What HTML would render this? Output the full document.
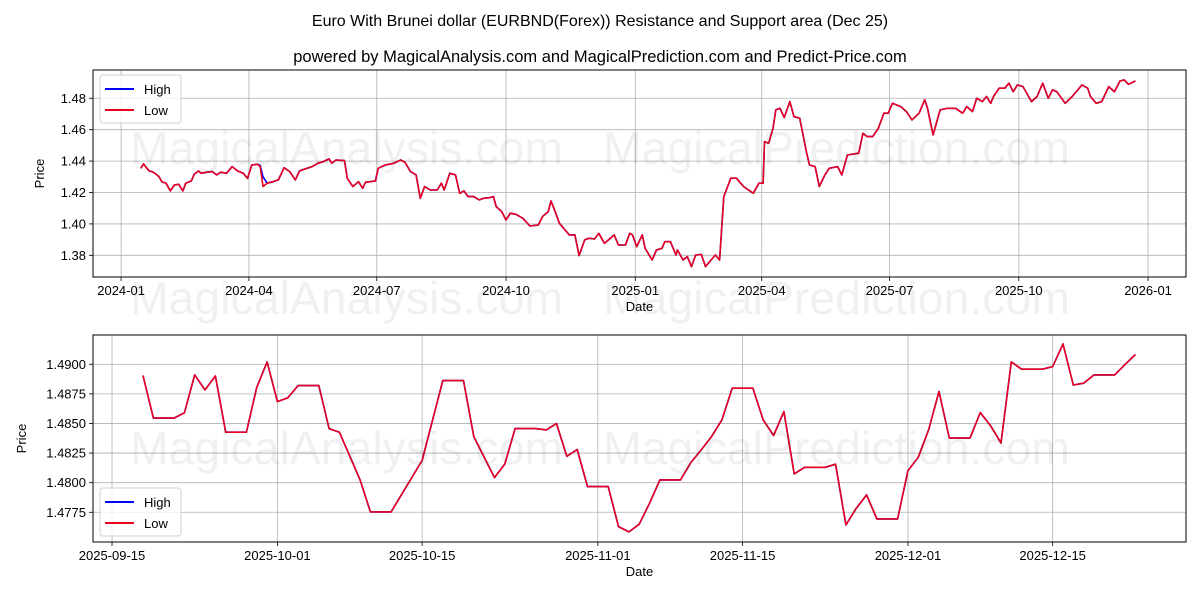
<!DOCTYPE html>
<html><head><meta charset="utf-8"><style>
body{margin:0;background:#fff;}
svg{display:block;font-family:"Liberation Sans","DejaVu Sans",sans-serif;}
</style></head><body>
<svg id="chart" width="1200" height="600" viewBox="0 0 1200 600">
<rect x="0" y="0" width="1200" height="600" fill="#fff"/>
<text x="600" y="26" text-anchor="middle" font-size="16" fill="#000">Euro With Brunei dollar (EURBND(Forex)) Resistance and Support area (Dec 25)</text>
<text x="600" y="62" text-anchor="middle" font-size="16.5" fill="#000">powered by MagicalAnalysis.com and MagicalPrediction.com and Predict-Price.com</text>
<g id="top"></g>
<g id="bot"></g>
<g font-size="46" fill="#000" fill-opacity="0.06">
<text x="130" y="164" textLength="433" lengthAdjust="spacingAndGlyphs">MagicalAnalysis.com</text>
<text x="603" y="164" textLength="467" lengthAdjust="spacingAndGlyphs">MagicalPrediction.com</text>
<text x="130" y="314" textLength="433" lengthAdjust="spacingAndGlyphs">MagicalAnalysis.com</text>
<text x="603" y="314" textLength="467" lengthAdjust="spacingAndGlyphs">MagicalPrediction.com</text>
<text x="130" y="464" textLength="433" lengthAdjust="spacingAndGlyphs">MagicalAnalysis.com</text>
<text x="603" y="464" textLength="467" lengthAdjust="spacingAndGlyphs">MagicalPrediction.com</text>
</g>
</svg>
<script>
// Top chart: day offsets from 2024-01-01 and low values
const topDays = [14,16,18,20,22,24,27,29,32,35,38,41,44,46,50,52,55,57,61,65,68,71,75,79,83,87,90,93,97,99,101,104,108,112,116,120,124,127,131,136,140,144,148,150,153,159,161,165,169,172,174,181,183,188,194,199,202,206,210,213,216,220,225,228,230,234,238,241,244,247,251,255,258,262,265,267,271,274,277,281,286,291,297,300,304,306,309,312,316,319,323,326,330,333,337,340,344,347,351,354,359,362,364,367,371,373,378,381,385,387,391,395,396,400,403,406,409,413,416,419,423,426,429,434,438,443,450,454,457,458,461,464,466,469,472,476,479,483,488,490,494,497,501,504,510,513,517,525,528,531,535,539,543,546,549,555,559,563,568,572,574,578,583,588,594,599,602,606,609,613,616,619,621,625,629,632,635,638,642,648,652,656,660,663,666,672,677,684,688,690,694,698,703,707,711,714,717,722];
const topLow = [1.4354,1.4382,1.4358,1.4337,1.4333,1.4322,1.4301,1.4269,1.4259,1.4210,1.4248,1.4252,1.4210,1.4259,1.4274,1.4316,1.4337,1.4322,1.4329,1.4333,1.4312,1.4329,1.4322,1.4365,1.4337,1.4322,1.4290,1.4375,1.4380,1.4365,1.4238,1.4259,1.4269,1.4280,1.4358,1.4333,1.4280,1.4337,1.4350,1.4365,1.4386,1.4397,1.4414,1.4386,1.4407,1.4403,1.4290,1.4238,1.4269,1.4227,1.4265,1.4274,1.4354,1.4375,1.4386,1.4407,1.4393,1.4333,1.4312,1.4163,1.4238,1.4216,1.4216,1.4259,1.4216,1.4322,1.4312,1.4195,1.4210,1.4174,1.4174,1.4153,1.4163,1.4167,1.4174,1.4110,1.4078,1.4025,1.4068,1.4061,1.4036,1.3987,1.3993,1.4047,1.4078,1.4146,1.4078,1.4004,1.3962,1.3930,1.3930,1.3798,1.3898,1.3909,1.3904,1.3940,1.3877,1.3898,1.3930,1.3866,1.3866,1.3940,1.3930,1.3855,1.3930,1.3845,1.3770,1.3834,1.3845,1.3887,1.3887,1.3802,1.3834,1.3770,1.3792,1.3728,1.3802,1.3806,1.3728,1.3760,1.3802,1.3770,1.4174,1.4291,1.4291,1.4238,1.4195,1.4259,1.4259,1.4524,1.4514,1.4609,1.4726,1.4736,1.4677,1.4779,1.4683,1.4673,1.4450,1.4375,1.4365,1.4238,1.4312,1.4354,1.4365,1.4312,1.4439,1.4450,1.4577,1.4556,1.4556,1.4609,1.4705,1.4705,1.4768,1.4747,1.4715,1.4662,1.4705,1.4790,1.4736,1.4567,1.4726,1.4736,1.4736,1.4705,1.4747,1.4715,1.4800,1.4779,1.4811,1.4768,1.4811,1.4864,1.4864,1.4896,1.4842,1.4885,1.4874,1.4779,1.4811,1.4896,1.4800,1.4853,1.4842,1.4768,1.4811,1.4885,1.4864,1.4811,1.4768,1.4779,1.4874,1.4842,1.4910,1.4917,1.4889,1.4910];
const topHighDays = [97,99,100,101];
const topHighVals = [1.4380,1.4372,1.4368,1.4300];
const topTickLabels = ["2024-01","2024-04","2024-07","2024-10","2025-01","2025-04","2025-07","2025-10","2026-01"];
const topTickDays = [0,91,182,274,366,456,547,639,731];
const topYTicks = [1.38,1.40,1.42,1.44,1.46,1.48];

// Bottom chart: day offsets from 2025-09-15 and low values
const botDays = [3,4,6,7,8,9,10,11,13,14,15,16,17,18,20,21,22,24,25,27,30,32,34,35,37,38,39,41,42,43,44,45,46,48,49,50,51,52,53,55,56,57,58,59,60,62,63,64,65,66,67,69,70,71,72,73,74,76,77,78,79,80,81,83,84,85,86,87,88,90,91,92,93,94,95,97,98,99];
const botLow = [1.48904,1.48545,1.48545,1.48590,1.48910,1.48783,1.48901,1.48426,1.48426,1.48803,1.49020,1.48685,1.48716,1.48820,1.48820,1.48457,1.48426,1.48023,1.47753,1.47753,1.48187,1.48862,1.48862,1.48389,1.48043,1.48158,1.48457,1.48457,1.48446,1.48499,1.48223,1.48280,1.47967,1.47967,1.47629,1.47584,1.47649,1.47826,1.48023,1.48023,1.48170,1.48277,1.48389,1.48530,1.48798,1.48798,1.48530,1.48398,1.48600,1.48074,1.48130,1.48130,1.48156,1.47643,1.47784,1.47897,1.47694,1.47694,1.48100,1.48215,1.48446,1.48770,1.48376,1.48376,1.48592,1.48480,1.48336,1.49020,1.48958,1.48958,1.48980,1.49172,1.48825,1.48840,1.48910,1.48910,1.48997,1.49082];
const botTickLabels = ["2025-09-15","2025-10-01","2025-10-15","2025-11-01","2025-11-15","2025-12-01","2025-12-15"];
const botTickDays = [0,16,30,47,61,77,91];
const botYTicks = [1.4775,1.4800,1.4825,1.4850,1.4875,1.4900];

const NS="http://www.w3.org/2000/svg";
function mk(parent,tag,attrs){const e=document.createElementNS(NS,tag);for(const k in attrs)e.setAttribute(k,attrs[k]);parent.appendChild(e);return e;}

function panel(g,cfg){
  const L=93,R=1186,T=cfg.top,B=cfg.bottom;
  const xs=d=>L+(d-cfg.x0)/(cfg.x1-cfg.x0)*(R-L);
  const ys=v=>B-(v-cfg.y0)/(cfg.y1-cfg.y0)*(B-T);
  cfg.xt.forEach((d,i)=>{
    const x=xs(d);
    const gl=mk(g,'line',{x1:x,x2:x,y1:T,y2:B,stroke:'#b0b0b0','stroke-width':0.8});
    
    
    const tk=mk(g,'line',{x1:x,x2:x,y1:B,y2:B+4,stroke:'#000','stroke-width':0.8});
    
    
    const t=mk(g,'text',{x:x,y:B+18,'text-anchor':'middle','font-size':13,fill:'#000'});
    t.textContent=cfg.xl[i];
    
    
  });
  cfg.yt.forEach(v=>{
    const y=ys(v);
    const gl=mk(g,'line',{x1:L,x2:R,y1:y,y2:y,stroke:'#b0b0b0','stroke-width':0.8});
    
    
    const tk=mk(g,'line',{x1:L-4,x2:L,y1:y,y2:y,stroke:'#000','stroke-width':0.8});
    
    
    const t=mk(g,'text',{x:L-7,y:y+4.5,'text-anchor':'end','font-size':13,fill:'#000'});
    t.textContent=v.toFixed(cfg.dec);
    
    
  });
  const hp=cfg.days.map((d,i)=>{let v=cfg.low[i];const j=cfg.hd.indexOf(d);if(j>=0)v=cfg.hv[j];return xs(d).toFixed(1)+','+ys(v).toFixed(1);}).join(' ');
  const hl=mk(g,'polyline',{points:hp,fill:'none',stroke:'#0000ff','stroke-width':1.6,'stroke-linejoin':'round'});
  
  
  const lp=cfg.days.map((d,i)=>xs(d).toFixed(1)+','+ys(cfg.low[i]).toFixed(1)).join(' ');
  const ll=mk(g,'polyline',{points:lp,fill:'none',stroke:'#e8001c','stroke-width':1.6,'stroke-linejoin':'round'});
  
  
  const fr=mk(g,'rect',{x:L,y:T,width:R-L,height:B-T,fill:'none',stroke:'#000','stroke-width':1});
  
  
  const xl=mk(g,'text',{x:(L+R)/2,y:B+34,'text-anchor':'middle','font-size':13,fill:'#000'});
  xl.textContent='Date';
  
  
  const yx=cfg.ylx,yy=(T+B)/2;
  const yl=mk(g,'text',{x:yx,y:yy,'text-anchor':'middle','font-size':13,fill:'#000',transform:'rotate(-90 '+yx+' '+yy+')'});
  yl.textContent='Price';
  
  
  const lg=mk(g,'g',{});
  
  
  const ly=cfg.legY;
  mk(lg,'rect',{x:100,y:ly,width:81,height:48,rx:3,fill:'#fff','fill-opacity':0.8,stroke:'#d0d0d0'});
  [['High','#0000ff'],['Low','#e8001c']].forEach((p,i)=>{
    const e=mk(lg,'line',{x1:105,x2:134,y1:ly+14+i*21,y2:ly+14+i*21,stroke:p[1],'stroke-width':2});
    
    
    const t=mk(lg,'text',{x:144,y:ly+19+i*21,'font-size':13,fill:'#000'});
    t.textContent=p[0];
    
    
  });
}
panel(document.getElementById('top'),{top:70,bottom:277,x0:-20,x1:758,y0:1.3662,y1:1.4980,days:topDays,low:topLow,hd:topHighDays,hv:topHighVals,xt:topTickDays,xl:topTickLabels,yt:topYTicks,dec:2,ylx:44,legY:75});
panel(document.getElementById('bot'),{top:335,bottom:542,x0:-1.84,x1:103.9,y0:1.47499,y1:1.49247,days:botDays,low:botLow,hd:[],hv:[],xt:botTickDays,xl:botTickLabels,yt:botYTicks,dec:4,ylx:26,legY:488});
</script>
</body></html>
